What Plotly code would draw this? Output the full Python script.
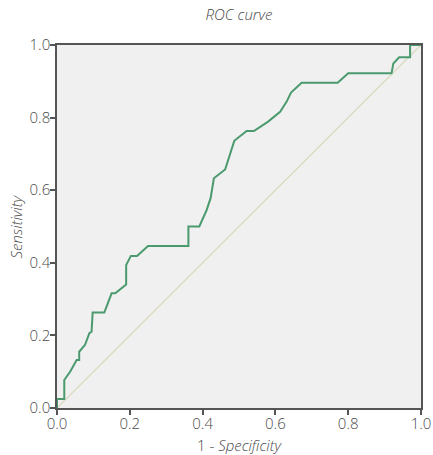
import plotly.graph_objects as go

# ROC curve points (1 - specificity, sensitivity)
fpr = [0, 0, 0.02, 0.02, 0.036, 0.047, 0.054, 0.061, 0.061, 0.077, 0.089, 0.095,
       0.098, 0.13, 0.15, 0.16, 0.19, 0.19, 0.203, 0.22, 0.25, 0.361, 0.361, 0.391,
       0.411, 0.422, 0.431, 0.462, 0.487, 0.521, 0.541, 0.58, 0.613, 0.631, 0.643, 0.672,
       0.771, 0.8, 0.919, 0.924, 0.94, 0.97, 0.97, 1.0]
tpr = [0, 0.025, 0.025, 0.077, 0.1, 0.118, 0.132, 0.132, 0.155, 0.174, 0.206, 0.21,
       0.263, 0.263, 0.316, 0.316, 0.34, 0.394, 0.419, 0.419, 0.446, 0.446, 0.5, 0.5,
       0.545, 0.578, 0.633, 0.657, 0.736, 0.763, 0.763, 0.789, 0.816, 0.844, 0.869, 0.896,
       0.896, 0.922, 0.922, 0.949, 0.966, 0.966, 1.0, 1.0]
ref_x = [0, 1]
ref_y = [0, 1]
tick_vals = [0.0, 0.2, 0.4, 0.6, 0.8, 1.0]
tick_text = ["0.0", "0.2", "0.4", "0.6", "0.8", "1.0"]
x_title = "1 - <i>Specificity</i>"
y_title = "<i>Sensitivity</i>"
chart_title = "<i>ROC curve</i>"

FONT = "Open Sans"
TXT = "#4a4a4a"
fig = go.Figure()
fig.add_trace(go.Scatter(x=ref_x, y=ref_y, mode="lines",
                         line=dict(color="#dcdcc4", width=1.5), hoverinfo="skip"))
fig.add_trace(go.Scatter(x=fpr, y=tpr, mode="lines",
                         line=dict(color="#4a9a6e", width=2)))

axis_common = dict(
    range=[0, 1], tickvals=tick_vals, ticktext=tick_text, automargin=False,
    showgrid=False, zeroline=False, showline=True, mirror=True,
    linecolor="#555555", linewidth=1.5, ticks="outside", ticklen=5,
    tickcolor="#555555", tickwidth=1.5,
    tickfont=dict(family=FONT, size=15, color=TXT, weight=300),
)
fig.update_layout(
    width=433, height=455,
    margin=dict(l=57, r=12, t=45, b=47, autoexpand=False),
    paper_bgcolor="white", plot_bgcolor="#f0f0f0",
    showlegend=False,
    title=dict(text=chart_title, x=(57 + 421) / 2 / 433, xanchor="center",
               y=1 - 15 / 455, yanchor="middle",
               font=dict(family=FONT, size=15, color=TXT, weight=300)),
    xaxis=dict(axis_common, ticklabelstandoff=-4),
    yaxis=dict(axis_common, ticklabelstandoff=-3),
    annotations=[
        dict(text=x_title, xref="paper", yref="paper", x=0.5, y=-37 / 363,
             xanchor="center", yanchor="middle", showarrow=False,
             font=dict(family=FONT, size=15, color=TXT, weight=300)),
        dict(text=y_title, xref="paper", yref="paper", x=-42 / 364, y=0.5,
             xanchor="center", yanchor="middle", showarrow=False, textangle=-90,
             font=dict(family=FONT, size=15, color=TXT, weight=300)),
    ],
)
fig.write_html(
    "out.html",
    config={"displayModeBar": False},
    post_script=("document.body.style.margin='0';"
                 "document.body.style.overflow='hidden';"
                 "document.documentElement.style.overflow='hidden';"),
)
